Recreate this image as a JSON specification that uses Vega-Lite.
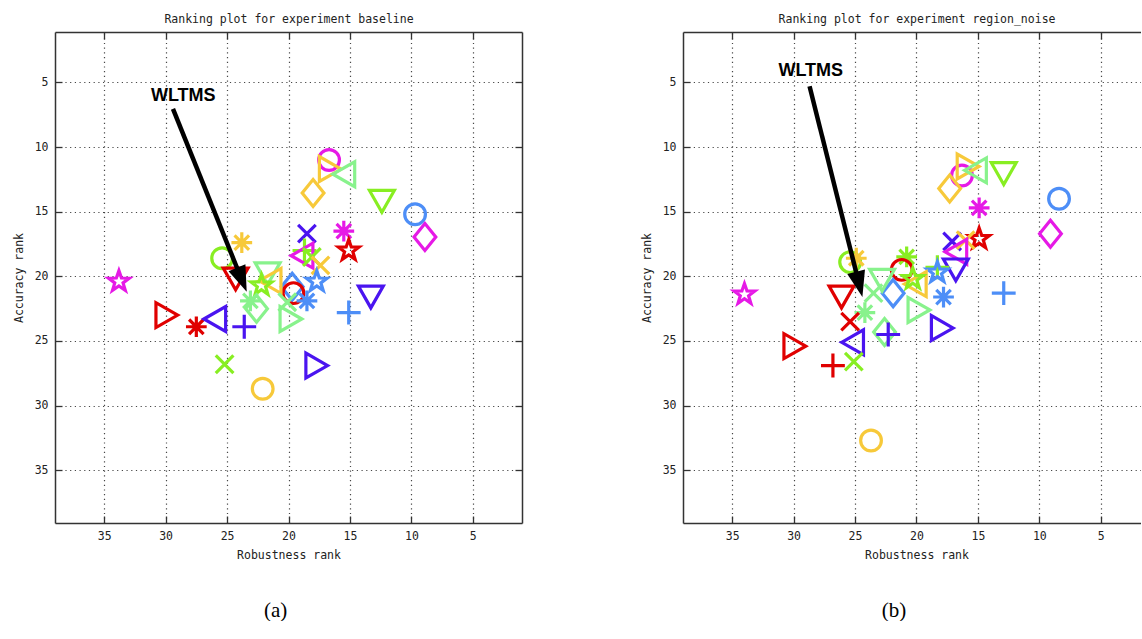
{
  "$schema": "https://vega.github.io/schema/vega-lite/v6.json",
  "background": "white",
  "padding": {"left": 13, "top": 13, "right": 0, "bottom": 0},
  "bounds": "flush",
  "spacing": 161,
  "config": {
    "view": {"stroke": null},
    "axis": {
      "labelFont": "DejaVu Sans Mono", "labelFontSize": 11.5, "labelColor": "#222",
      "titleFont": "DejaVu Sans Mono", "titleFontSize": 11.5, "titleFontWeight": "normal", "titleColor": "#222",
      "domainColor": "#333", "domainWidth": 1.5,
      "tickColor": "#333", "tickWidth": 1.3, "tickSize": -7, "labelPadding": 14,
      "gridColor": "#333", "gridDash": [1.2, 3.5], "gridWidth": 1.2, "gridOpacity": 0.9
    }
  },
  "datasets": {
    "baseline": [
      {"rob": 16.7, "acc": 11.0, "hue": "magenta", "marker": "circle"},
      {"rob": 16.6, "acc": 11.7, "hue": "yellow", "marker": "tri-right"},
      {"rob": 15.5, "acc": 12.1, "hue": "lightgreen", "marker": "tri-left"},
      {"rob": 18.0, "acc": 13.55, "hue": "yellow", "marker": "diamond"},
      {"rob": 12.4, "acc": 14.2, "hue": "chartreuse", "marker": "tri-down"},
      {"rob": 9.7, "acc": 15.2, "hue": "blue", "marker": "circle"},
      {"rob": 8.9, "acc": 16.95, "hue": "magenta", "marker": "diamond"},
      {"rob": 15.5, "acc": 16.5, "hue": "magenta", "marker": "asterisk"},
      {"rob": 15.1, "acc": 18.0, "hue": "red", "marker": "star"},
      {"rob": 18.5, "acc": 16.7, "hue": "violet", "marker": "x"},
      {"rob": 23.8, "acc": 17.4, "hue": "yellow", "marker": "asterisk"},
      {"rob": 25.4, "acc": 18.6, "hue": "chartreuse", "marker": "circle"},
      {"rob": 18.7, "acc": 18.0, "hue": "chartreuse", "marker": "plus"},
      {"rob": 18.9, "acc": 18.4, "hue": "magenta", "marker": "tri-left"},
      {"rob": 18.1, "acc": 18.5, "hue": "chartreuse", "marker": "x"},
      {"rob": 17.4, "acc": 19.15, "hue": "yellow", "marker": "x"},
      {"rob": 17.7, "acc": 20.4, "hue": "blue", "marker": "star"},
      {"rob": 19.7, "acc": 20.8, "hue": "blue", "marker": "diamond"},
      {"rob": 19.6, "acc": 21.3, "hue": "red", "marker": "circle"},
      {"rob": 18.5, "acc": 21.9, "hue": "blue", "marker": "asterisk"},
      {"rob": 21.7, "acc": 19.8, "hue": "lightgreen", "marker": "tri-down"},
      {"rob": 21.5, "acc": 20.35, "hue": "yellow", "marker": "tri-left"},
      {"rob": 22.2, "acc": 20.7, "hue": "chartreuse", "marker": "star"},
      {"rob": 23.1, "acc": 21.9, "hue": "lightgreen", "marker": "asterisk"},
      {"rob": 22.6, "acc": 22.5, "hue": "lightgreen", "marker": "diamond"},
      {"rob": 20.1, "acc": 22.0, "hue": "lightgreen", "marker": "x"},
      {"rob": 24.3, "acc": 20.2, "hue": "red", "marker": "tri-down"},
      {"rob": 29.9, "acc": 23.0, "hue": "red", "marker": "tri-right"},
      {"rob": 27.5, "acc": 23.9, "hue": "red", "marker": "asterisk"},
      {"rob": 26.0, "acc": 23.3, "hue": "violet", "marker": "tri-left"},
      {"rob": 23.6, "acc": 23.9, "hue": "violet", "marker": "plus"},
      {"rob": 19.8, "acc": 23.3, "hue": "lightgreen", "marker": "tri-right"},
      {"rob": 15.1, "acc": 22.8, "hue": "blue", "marker": "plus"},
      {"rob": 13.3, "acc": 21.6, "hue": "violet", "marker": "tri-down"},
      {"rob": 25.2, "acc": 26.8, "hue": "chartreuse", "marker": "x"},
      {"rob": 17.7, "acc": 26.9, "hue": "violet", "marker": "tri-right"},
      {"rob": 22.1, "acc": 28.7, "hue": "yellow", "marker": "circle"},
      {"rob": 33.8, "acc": 20.4, "hue": "magenta", "marker": "star"}
    ],
    "region_noise": [
      {"rob": 16.3, "acc": 12.2, "hue": "magenta", "marker": "circle"},
      {"rob": 15.8, "acc": 11.5, "hue": "yellow", "marker": "tri-right"},
      {"rob": 15.2, "acc": 11.8, "hue": "lightgreen", "marker": "tri-left"},
      {"rob": 17.3, "acc": 13.2, "hue": "yellow", "marker": "diamond"},
      {"rob": 12.9, "acc": 12.05, "hue": "chartreuse", "marker": "tri-down"},
      {"rob": 8.4, "acc": 14.0, "hue": "blue", "marker": "circle"},
      {"rob": 9.1, "acc": 16.7, "hue": "magenta", "marker": "diamond"},
      {"rob": 14.9, "acc": 14.7, "hue": "magenta", "marker": "asterisk"},
      {"rob": 14.9, "acc": 17.1, "hue": "red", "marker": "star"},
      {"rob": 17.1, "acc": 17.3, "hue": "violet", "marker": "x"},
      {"rob": 16.0, "acc": 17.2, "hue": "yellow", "marker": "x"},
      {"rob": 16.8, "acc": 18.1, "hue": "magenta", "marker": "tri-left"},
      {"rob": 16.8, "acc": 19.5, "hue": "violet", "marker": "tri-down"},
      {"rob": 18.3, "acc": 19.3, "hue": "chartreuse", "marker": "plus"},
      {"rob": 18.3, "acc": 19.7, "hue": "blue", "marker": "star"},
      {"rob": 20.8, "acc": 18.5, "hue": "chartreuse", "marker": "asterisk"},
      {"rob": 21.2, "acc": 19.5, "hue": "red", "marker": "circle"},
      {"rob": 20.1, "acc": 20.6, "hue": "yellow", "marker": "tri-left"},
      {"rob": 20.3, "acc": 20.2, "hue": "chartreuse", "marker": "star"},
      {"rob": 21.9, "acc": 21.3, "hue": "blue", "marker": "diamond"},
      {"rob": 17.8, "acc": 21.6, "hue": "blue", "marker": "asterisk"},
      {"rob": 12.9, "acc": 21.3, "hue": "blue", "marker": "plus"},
      {"rob": 19.8, "acc": 22.6, "hue": "lightgreen", "marker": "tri-right"},
      {"rob": 17.9, "acc": 24.0, "hue": "violet", "marker": "tri-right"},
      {"rob": 22.8, "acc": 20.3, "hue": "lightgreen", "marker": "tri-down"},
      {"rob": 23.5, "acc": 21.3, "hue": "lightgreen", "marker": "x"},
      {"rob": 25.4, "acc": 18.9, "hue": "chartreuse", "marker": "circle"},
      {"rob": 24.9, "acc": 18.6, "hue": "yellow", "marker": "asterisk"},
      {"rob": 26.1, "acc": 21.6, "hue": "red", "marker": "tri-down"},
      {"rob": 24.2, "acc": 22.8, "hue": "lightgreen", "marker": "asterisk"},
      {"rob": 25.4, "acc": 23.5, "hue": "red", "marker": "x"},
      {"rob": 22.6, "acc": 24.3, "hue": "lightgreen", "marker": "diamond"},
      {"rob": 22.3, "acc": 24.5, "hue": "violet", "marker": "plus"},
      {"rob": 25.2, "acc": 25.1, "hue": "violet", "marker": "tri-left"},
      {"rob": 29.9, "acc": 25.4, "hue": "red", "marker": "tri-right"},
      {"rob": 26.8, "acc": 26.9, "hue": "red", "marker": "plus"},
      {"rob": 25.1, "acc": 26.6, "hue": "chartreuse", "marker": "x"},
      {"rob": 23.7, "acc": 32.7, "hue": "yellow", "marker": "circle"},
      {"rob": 34.0, "acc": 21.4, "hue": "magenta", "marker": "star"}
    ],
    "notes_a": [
      {"label": "WLTMS", "tx": 28.56, "ty": 6.06, "sx": 29.4, "sy": 7.05, "ex": 23.89, "ey": 20.05, "hx": 23.4, "hy": 21.2}
    ],
    "notes_b": [
      {"label": "WLTMS", "tx": 28.6, "ty": 4.1, "sx": 28.7, "sy": 5.3, "ex": 24.72, "ey": 20.4, "hx": 24.4, "hy": 21.6}
    ]
  },
  "hconcat": [
    {
      "width": 467, "height": 491,
      "title": {"text": "(a)", "orient": "bottom", "font": "Liberation Serif", "fontSize": 21, "fontWeight": "normal", "color": "black", "offset": 39, "dx": -12.8},
      "resolve": {"axis": {"x": "independent", "y": "independent"}},
      "layer": [
        {
          "data": {"name": "baseline"},
          "mark": {"type": "point", "filled": false, "strokeWidth": 3.2, "size": 430, "opacity": 1},
          "encoding": {
            "x": {"field": "rob", "type": "quantitative", "scale": {"domain": [1, 39], "reverse": true, "nice": false, "zero": false},
                  "axis": {"orient": "bottom", "title": "Robustness rank", "values": [5, 10, 15, 20, 25, 30, 35], "grid": true, "titlePadding": 8}},
            "y": {"field": "acc", "type": "quantitative", "scale": {"domain": [1.1, 39.08], "reverse": true, "nice": false, "zero": false},
                  "axis": {"orient": "left", "title": "Accuracy rank", "values": [5, 10, 15, 20, 25, 30, 35], "grid": true, "titlePadding": 10}},
            "color": {"field": "hue", "type": "nominal", "legend": null,
                      "scale": {"domain": ["magenta", "red", "yellow", "chartreuse", "lightgreen", "blue", "violet"],
                                "range": ["#e619e6", "#e00000", "#f7c93a", "#88ee22", "#88f28c", "#4d8ef7", "#4a14f0"]}},
            "shape": {"field": "marker", "type": "nominal", "legend": null,
                      "scale": {"domain": ["circle", "diamond", "tri-up", "tri-down", "tri-left", "tri-right", "plus", "x", "asterisk", "star"],
                                "range": ["circle", "M0,-1.3L1.05,0L0,1.3L-1.05,0Z", "M-1.2,1.05L1.2,1.05L0,-1.05Z", "M-1.2,-1.05L1.2,-1.05L0,1.05Z", "M-1.05,0L1.05,-1.2L1.05,1.2Z", "M1.05,0L-1.05,-1.2L-1.05,1.2Z", "M-1.15,0L1.15,0M0,-1.15L0,1.15", "M-0.85,-0.85L0.85,0.85M-0.85,0.85L0.85,-0.85", "M-1,0L1,0M0,-1L0,1M-0.7,-0.7L0.7,0.7M-0.7,0.7L0.7,-0.7", "M0,-1.05L0.247,-0.34L1,-0.324L0.4,0.13L0.617,0.85L0,0.42L-0.617,0.85L-0.4,0.13L-1,-0.324L-0.247,-0.34Z"]}}
          }
        },
        {
          "data": {"name": "notes_a"},
          "mark": {"type": "rule", "strokeWidth": 4.5, "color": "black"},
          "encoding": {
            "x": {"field": "sx", "type": "quantitative",
                  "axis": {"orient": "top", "title": "Ranking plot for experiment baseline", "labels": false, "grid": false, "values": [5, 10, 15, 20, 25, 30, 35], "titlePadding": 7}},
            "y": {"field": "sy", "type": "quantitative",
                  "axis": {"orient": "right", "title": null, "labels": false, "grid": false, "values": [5, 10, 15, 20, 25, 30, 35]}},
            "x2": {"field": "ex"},
            "y2": {"field": "ey"}
          }
        },
        {
          "data": {"name": "notes_a"},
          "mark": {"type": "point", "shape": "M0,0L0.7,2L-0.7,2Z", "filled": true, "color": "black", "size": 676, "angle": 158, "opacity": 1, "strokeWidth": 0},
          "encoding": {
            "x": {"field": "hx", "type": "quantitative", "axis": null},
            "y": {"field": "hy", "type": "quantitative", "axis": null}
          }
        },
        {
          "data": {"name": "notes_a"},
          "mark": {"type": "text", "font": "Liberation Sans", "fontWeight": "bold", "fontSize": 18, "color": "black", "align": "center", "baseline": "middle"},
          "encoding": {
            "x": {"field": "tx", "type": "quantitative", "axis": null},
            "y": {"field": "ty", "type": "quantitative", "axis": null},
            "text": {"field": "label"}
          }
        }
      ]
    },
    {
      "width": 458, "height": 491,
      "title": {"text": "(b)", "orient": "bottom", "font": "Liberation Serif", "fontSize": 21, "fontWeight": "normal", "color": "black", "offset": 39, "dx": -18},
      "resolve": {"axis": {"x": "independent", "y": "independent"}},
      "layer": [
        {
          "data": {"name": "region_noise"},
          "mark": {"type": "point", "filled": false, "strokeWidth": 3.2, "size": 430, "opacity": 1},
          "encoding": {
            "x": {"field": "rob", "type": "quantitative", "scale": {"domain": [1.73, 39], "reverse": true, "nice": false, "zero": false},
                  "axis": {"orient": "bottom", "title": "Robustness rank", "values": [5, 10, 15, 20, 25, 30, 35], "grid": true, "titlePadding": 8, "titleX": 233.5}},
            "y": {"field": "acc", "type": "quantitative", "scale": {"domain": [1.1, 39.08], "reverse": true, "nice": false, "zero": false},
                  "axis": {"orient": "left", "title": "Accuracy rank", "values": [5, 10, 15, 20, 25, 30, 35], "grid": true, "titlePadding": 10}},
            "color": {"field": "hue", "type": "nominal", "legend": null,
                      "scale": {"domain": ["magenta", "red", "yellow", "chartreuse", "lightgreen", "blue", "violet"],
                                "range": ["#e619e6", "#e00000", "#f7c93a", "#88ee22", "#88f28c", "#4d8ef7", "#4a14f0"]}},
            "shape": {"field": "marker", "type": "nominal", "legend": null,
                      "scale": {"domain": ["circle", "diamond", "tri-up", "tri-down", "tri-left", "tri-right", "plus", "x", "asterisk", "star"],
                                "range": ["circle", "M0,-1.3L1.05,0L0,1.3L-1.05,0Z", "M-1.2,1.05L1.2,1.05L0,-1.05Z", "M-1.2,-1.05L1.2,-1.05L0,1.05Z", "M-1.05,0L1.05,-1.2L1.05,1.2Z", "M1.05,0L-1.05,-1.2L-1.05,1.2Z", "M-1.15,0L1.15,0M0,-1.15L0,1.15", "M-0.85,-0.85L0.85,0.85M-0.85,0.85L0.85,-0.85", "M-1,0L1,0M0,-1L0,1M-0.7,-0.7L0.7,0.7M-0.7,0.7L0.7,-0.7", "M0,-1.05L0.247,-0.34L1,-0.324L0.4,0.13L0.617,0.85L0,0.42L-0.617,0.85L-0.4,0.13L-1,-0.324L-0.247,-0.34Z"]}}
          }
        },
        {
          "data": {"name": "notes_b"},
          "mark": {"type": "rule", "strokeWidth": 4.5, "color": "black"},
          "encoding": {
            "x": {"field": "sx", "type": "quantitative",
                  "axis": {"orient": "top", "title": "Ranking plot for experiment region_noise", "labels": false, "grid": false, "values": [5, 10, 15, 20, 25, 30, 35], "titlePadding": 7, "titleX": 233.5}},
            "y": {"field": "sy", "type": "quantitative", "axis": null},
            "x2": {"field": "ex"},
            "y2": {"field": "ey"}
          }
        },
        {
          "data": {"name": "notes_b"},
          "mark": {"type": "point", "shape": "M0,0L0.7,2L-0.7,2Z", "filled": true, "color": "black", "size": 676, "angle": 166, "opacity": 1, "strokeWidth": 0},
          "encoding": {
            "x": {"field": "hx", "type": "quantitative", "axis": null},
            "y": {"field": "hy", "type": "quantitative", "axis": null}
          }
        },
        {
          "data": {"name": "notes_b"},
          "mark": {"type": "text", "font": "Liberation Sans", "fontWeight": "bold", "fontSize": 18, "color": "black", "align": "center", "baseline": "middle"},
          "encoding": {
            "x": {"field": "tx", "type": "quantitative", "axis": null},
            "y": {"field": "ty", "type": "quantitative", "axis": null},
            "text": {"field": "label"}
          }
        }
      ]
    }
  ]
}
